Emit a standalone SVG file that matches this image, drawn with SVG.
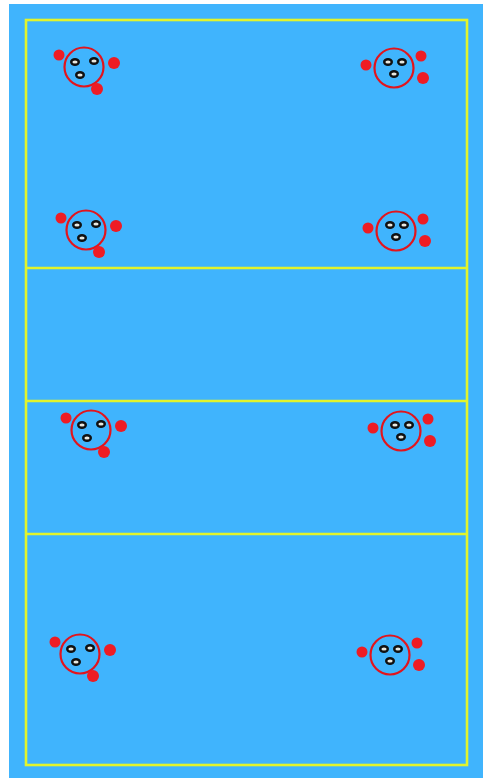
<svg xmlns="http://www.w3.org/2000/svg" width="483" height="778" viewBox="0 0 483 778">
<defs>
<style>
.line{fill:none;stroke:#e2f42c;stroke-width:2.6}
.ring{fill:none;stroke:#e3141c;stroke-width:2.2}
.red{fill:#ee1c24}
.blk{fill:#e8e8e0;stroke:#111;stroke-width:2.4}
</style>
<g id="pL">
<circle class="ring" cx="0" cy="0" r="19.5"/>
<circle class="red" cx="-25" cy="-12" r="5.5"/>
<circle class="red" cx="30" cy="-4" r="6"/>
<circle class="red" cx="13" cy="22" r="6"/>
<ellipse class="blk" cx="-9" cy="-5" rx="3.8" ry="2.8"/>
<ellipse class="blk" cx="10" cy="-6" rx="3.8" ry="2.8"/>
<ellipse class="blk" cx="-4" cy="8" rx="3.8" ry="2.8"/>
</g>
<g id="pR">
<circle class="ring" cx="0" cy="0" r="19.5"/>
<circle class="red" cx="-28" cy="-3" r="5.5"/>
<circle class="red" cx="27" cy="-12" r="5.5"/>
<circle class="red" cx="29" cy="10" r="6"/>
<ellipse class="blk" cx="-6" cy="-6" rx="3.8" ry="2.8"/>
<ellipse class="blk" cx="8" cy="-6" rx="3.8" ry="2.8"/>
<ellipse class="blk" cx="0" cy="6" rx="3.8" ry="2.8"/>
</g>
</defs>
<rect x="0" y="0" width="483" height="778" fill="#ffffff"/>
<rect x="9" y="4" width="474" height="774" fill="#40b4fd"/>
<g id="court">
<rect class="line" x="26" y="20" width="441" height="745"/>
<line class="line" x1="26" y1="268" x2="467" y2="268"/>
<line class="line" x1="26" y1="401" x2="467" y2="401"/>
<line class="line" x1="26" y1="534" x2="467" y2="534"/>
</g>
<g id="connectors"></g>
<g id="group-tl"><use href="#pL" x="84" y="67"/></g>
<g id="group-tr"><use href="#pR" x="394" y="68"/></g>
<g id="group-ml"><use href="#pL" x="86" y="230"/></g>
<g id="group-mr"><use href="#pR" x="396" y="231"/></g>
<g id="group-cl"><use href="#pL" x="91" y="430"/></g>
<g id="group-cr"><use href="#pR" x="401" y="431"/></g>
<g id="group-bl"><use href="#pL" x="80" y="654"/></g>
<g id="group-br"><use href="#pR" x="390" y="655"/></g>
</svg>
